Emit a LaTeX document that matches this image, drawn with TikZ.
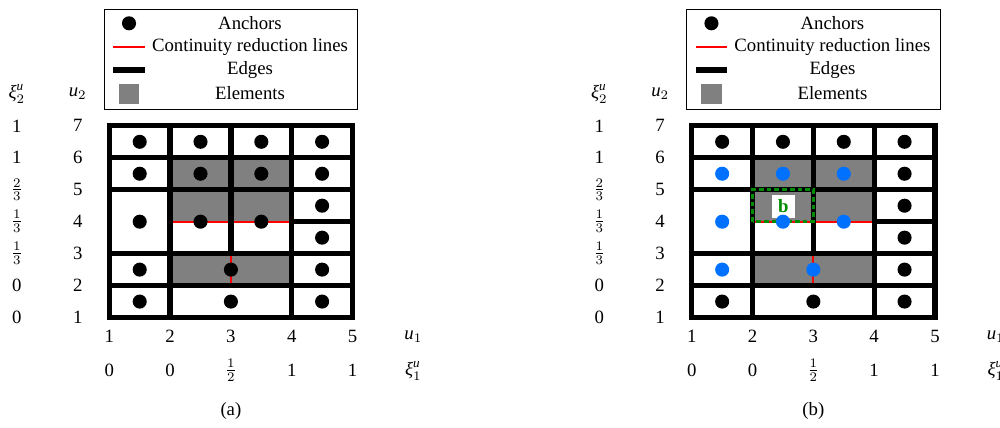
\documentclass[tikz,border=0pt]{standalone}
\usepackage{amsmath}
\usepackage{fontspec}
\setmainfont{Liberation Serif}

\definecolor{anchorBlue}{RGB}{0,112,255}
\definecolor{boxGreen}{RGB}{0,140,0}

\providecommand*{\xMin}{}
\providecommand*{\xMax}{}
\providecommand*{\yMin}{}
\providecommand*{\yMax}{}
\renewcommand*{\xMin}{1}
\renewcommand*{\xMax}{5}
\renewcommand*{\yMin}{1}
\renewcommand*{\yMax}{7}

\tikzset{
  meshedge/.style={line width=2.8pt},
  reduction/.style={red,line width=1pt},
  element/.style={fill=gray},
  anchorpt/.style={circle,fill=black,inner sep=0pt,minimum size=7.5pt},
  blueanchor/.style={anchorpt,fill=anchorBlue},
  dashbox/.style={draw=boxGreen,line width=1.8pt,dash pattern=on 2.5pt off 1.6pt},
}

% mesh, legend and axis labels of one panel (#1: name prefix, #2: caption)
\newcommand*{\drawPanel}[2]{%
%elements
  \fill [element] (2,4) rectangle (4,6);
  \fill [element] (2,2) rectangle (4,3);
%continuity reduction lines
  \draw [reduction] (2,4) -- (4,4);
  \draw [reduction] (3,2) -- (3,3);
%h
  \draw [meshedge] (\xMin,\yMin) rectangle (\xMax,\yMax);
  \draw [meshedge] (\xMin,2) -- (\xMax,2);
  \draw [meshedge] (\xMin,3) -- (\xMax,3);
  \draw [meshedge] (4,4) -- (\xMax,4);
  \draw [meshedge] (\xMin,5) -- (\xMax,5);
  \draw [meshedge] (\xMin,6) -- (\xMax,6);
%v
  \draw [meshedge] (2,\yMin) -- (2,\yMax);
  \draw [meshedge] (3,3) -- (3,\yMax);
  \draw [meshedge] (4,\yMin) -- (4,\yMax);
%legend
  \node (#1legend) [draw,line width=0.5pt,inner sep=0pt,minimum width=135pt,minimum height=53.3pt] at (3.0,9.09) {};
  \node (#1legAnchor) [anchorpt] at (1.324,10.208) {};
  \node (#1legAnchorText) at (3.314,10.208) {Anchors};
  \draw [reduction] (1.066,9.457) -- (1.587,9.457);
  \node (#1legLineText) at (3.314,9.457) {Continuity reduction lines};
  \draw [meshedge] (1.066,8.748) -- (1.587,8.748);
  \node (#1legEdgeText) at (3.314,8.748) {Edges};
  \fill [element] (1.16,7.682) rectangle (1.489,8.308);
  \node (#1legElemText) at (3.314,8.018) {Elements};
%left labels
  \node (#1xiTwo) at (-0.52,8) {$\textit{ξ}^{\textit{u}}_{2}$};
  \node (#1uTwo) at (0.48,8) {$\textit{u}_{2}$};
  \node (#1xiSeven) at (-0.52,7) {1};
  \node (#1xiSix) at (-0.52,6) {1};
  \node (#1xiFive) at (-0.52,5) {$\frac{2}{3}$};
  \node (#1xiFour) at (-0.52,4) {$\frac{1}{3}$};
  \node (#1xiThree) at (-0.52,3) {$\frac{1}{3}$};
  \node (#1xiTwoVal) at (-0.52,2) {0};
  \node (#1xiOne) at (-0.52,1) {0};
  \node (#1uSeven) at (0.48,7) {7};
  \node (#1uSix) at (0.48,6) {6};
  \node (#1uFive) at (0.48,5) {5};
  \node (#1uFour) at (0.48,4) {4};
  \node (#1uThree) at (0.48,3) {3};
  \node (#1uTwoVal) at (0.48,2) {2};
  \node (#1uOne) at (0.48,1) {1};
%bottom labels
  \node (#1uxOne) at (1,0.4) {1};
  \node (#1uxTwo) at (2,0.4) {2};
  \node (#1uxThree) at (3,0.4) {3};
  \node (#1uxFour) at (4,0.4) {4};
  \node (#1uxFive) at (5,0.4) {5};
  \node (#1uOneLabel) at (6,0.4) {$\textit{u}_{1}$};
  \node (#1xxOne) at (1,-0.66) {0};
  \node (#1xxTwo) at (2,-0.66) {0};
  \node (#1xxThree) at (3,-0.66) {$\frac{1}{2}$};
  \node (#1xxFour) at (4,-0.66) {1};
  \node (#1xxFive) at (5,-0.66) {1};
  \node (#1xiOneLabel) at (6,-0.66) {$\textit{ξ}^{\textit{u}}_{1}$};
  \node (#1caption) at (3,-1.92) {#2};
}

\begin{document}
\begin{tikzpicture}[x=32.4pt,y=17.03pt]
  \useasboundingbox (-0.798,-2.427) rectangle (15.65,10.937);

%(a) anchors of the mesh
  \begin{scope}
    \drawPanel{a}{(a)}
    \node (aAnc1) [anchorpt] at (1.5,6.5) {};
    \node (aAnc2) [anchorpt] at (2.5,6.5) {};
    \node (aAnc3) [anchorpt] at (3.5,6.5) {};
    \node (aAnc4) [anchorpt] at (4.5,6.5) {};
    \node (aAnc5) [anchorpt] at (1.5,5.5) {};
    \node (aAnc6) [anchorpt] at (2.5,5.5) {};
    \node (aAnc7) [anchorpt] at (3.5,5.5) {};
    \node (aAnc8) [anchorpt] at (4.5,5.5) {};
    \node (aAnc9) [anchorpt] at (1.5,4) {};
    \node (aAnc10) [anchorpt] at (2.5,4) {};
    \node (aAnc11) [anchorpt] at (3.5,4) {};
    \node (aAnc12) [anchorpt] at (4.5,4.5) {};
    \node (aAnc13) [anchorpt] at (4.5,3.5) {};
    \node (aAnc14) [anchorpt] at (1.5,2.5) {};
    \node (aAnc15) [anchorpt] at (3,2.5) {};
    \node (aAnc16) [anchorpt] at (4.5,2.5) {};
    \node (aAnc17) [anchorpt] at (1.5,1.5) {};
    \node (aAnc18) [anchorpt] at (3,1.5) {};
    \node (aAnc19) [anchorpt] at (4.5,1.5) {};
  \end{scope}

%(b) same mesh, support of b marked
  \begin{scope}[shift={(9.58,0)}]
    \drawPanel{b}{(b)}
    \draw [dashbox] (2,4) rectangle (3,5);
    \node (bLabel) [fill=white,text=boxGreen,font=\bfseries,inner sep=0pt,minimum size=12pt] at (2.508,4.474) {b};
    \node (bAnc1) [anchorpt] at (1.5,6.5) {};
    \node (bAnc2) [anchorpt] at (2.5,6.5) {};
    \node (bAnc3) [anchorpt] at (3.5,6.5) {};
    \node (bAnc4) [anchorpt] at (4.5,6.5) {};
    \node (bAnc5) [blueanchor] at (1.5,5.5) {};
    \node (bAnc6) [blueanchor] at (2.5,5.5) {};
    \node (bAnc7) [blueanchor] at (3.5,5.5) {};
    \node (bAnc8) [anchorpt] at (4.5,5.5) {};
    \node (bAnc9) [blueanchor] at (1.5,4) {};
    \node (bAnc10) [blueanchor] at (2.5,4) {};
    \node (bAnc11) [blueanchor] at (3.5,4) {};
    \node (bAnc12) [anchorpt] at (4.5,4.5) {};
    \node (bAnc13) [anchorpt] at (4.5,3.5) {};
    \node (bAnc14) [blueanchor] at (1.5,2.5) {};
    \node (bAnc15) [blueanchor] at (3,2.5) {};
    \node (bAnc16) [anchorpt] at (4.5,2.5) {};
    \node (bAnc17) [anchorpt] at (1.5,1.5) {};
    \node (bAnc18) [anchorpt] at (3,1.5) {};
    \node (bAnc19) [anchorpt] at (4.5,1.5) {};
  \end{scope}
\end{tikzpicture}
\end{document}
